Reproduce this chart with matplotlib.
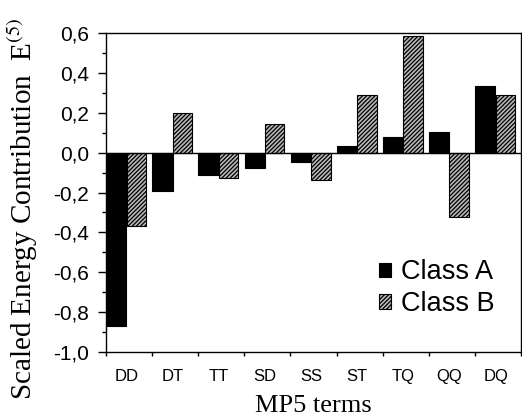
import matplotlib.pyplot as plt
from matplotlib.ticker import FuncFormatter, MultipleLocator, FixedLocator

terms = ['DD', 'DT', 'TT', 'SD', 'SS', 'ST', 'TQ', 'QQ', 'DQ']
class_a = [-0.87, -0.19, -0.11, -0.075, -0.045, 0.035, 0.08, 0.105, 0.335]
class_b = [-0.37, 0.20, -0.125, 0.145, -0.135, 0.29, 0.585, -0.325, 0.29]

plt.rcParams['mathtext.fontset'] = 'stix'
plt.rcParams['hatch.linewidth'] = 0.9

fig = plt.figure(figsize=(5.22, 4.19), dpi=100)
ax = fig.add_axes([0.203, 0.160, 0.795, 0.761])

x = range(len(terms))
w = 0.44
ax.bar([i + 0.005 for i in x], class_a, width=w, align='edge',
       color='black', edgecolor='black', linewidth=0.8, label='Class A')
ax.bar([i + w + 0.01 for i in x], class_b, width=w - 0.02, align='edge',
       facecolor='#b8b8b8', edgecolor='black', hatch='////////',
       linewidth=0.8, label='Class B')

ax.axhline(0, color='black', linewidth=1.0)
ax.set_xlim(0, len(terms))
ax.set_ylim(-1.0, 0.6)

# ticks at category boundaries, labels at the centres
ax.xaxis.set_major_locator(FixedLocator(range(len(terms) + 1)))
ax.xaxis.set_major_formatter(FuncFormatter(lambda v, p: ''))
ax.set_xticks([i + 0.45 for i in x], terms, minor=True)
ax.tick_params(axis='x', which='major', direction='out', length=3, width=1)
ax.tick_params(axis='x', which='minor', length=0, pad=12,
               labelsize=12, labelfontfamily='Liberation Sans')

ax.yaxis.set_major_locator(MultipleLocator(0.2))
ax.yaxis.set_minor_locator(MultipleLocator(0.1))
ax.yaxis.set_major_formatter(FuncFormatter(lambda v, p: f"{v:.1f}".replace('.', ',')))
ax.tick_params(axis='y', which='major', direction='out', length=6, width=1,
               pad=6, labelsize=15, labelfontfamily='Liberation Sans')
ax.tick_params(axis='y', which='minor', direction='out', length=3, width=1)

for s in ax.spines.values():
    s.set_linewidth(1.0)

ax.set_xlabel('MP5 terms', fontsize=19, family='Liberation Serif', labelpad=8)
ax.set_ylabel('Scaled Energy Contribution  E$^{(5)}$', fontsize=21,
              family='Liberation Serif')
ax.yaxis.set_label_coords(-0.16, 0.45)

ax.legend(loc='upper left', bbox_to_anchor=(0.70, 0.413),
          bbox_transform=fig.transFigure, frameon=False, borderpad=0,
          handlelength=0.45, handleheight=0.45, handletextpad=0.36,
          labelspacing=0.2, prop={'family': 'Liberation Sans', 'size': 19.5})

fig.savefig('out.png', dpi=100)
